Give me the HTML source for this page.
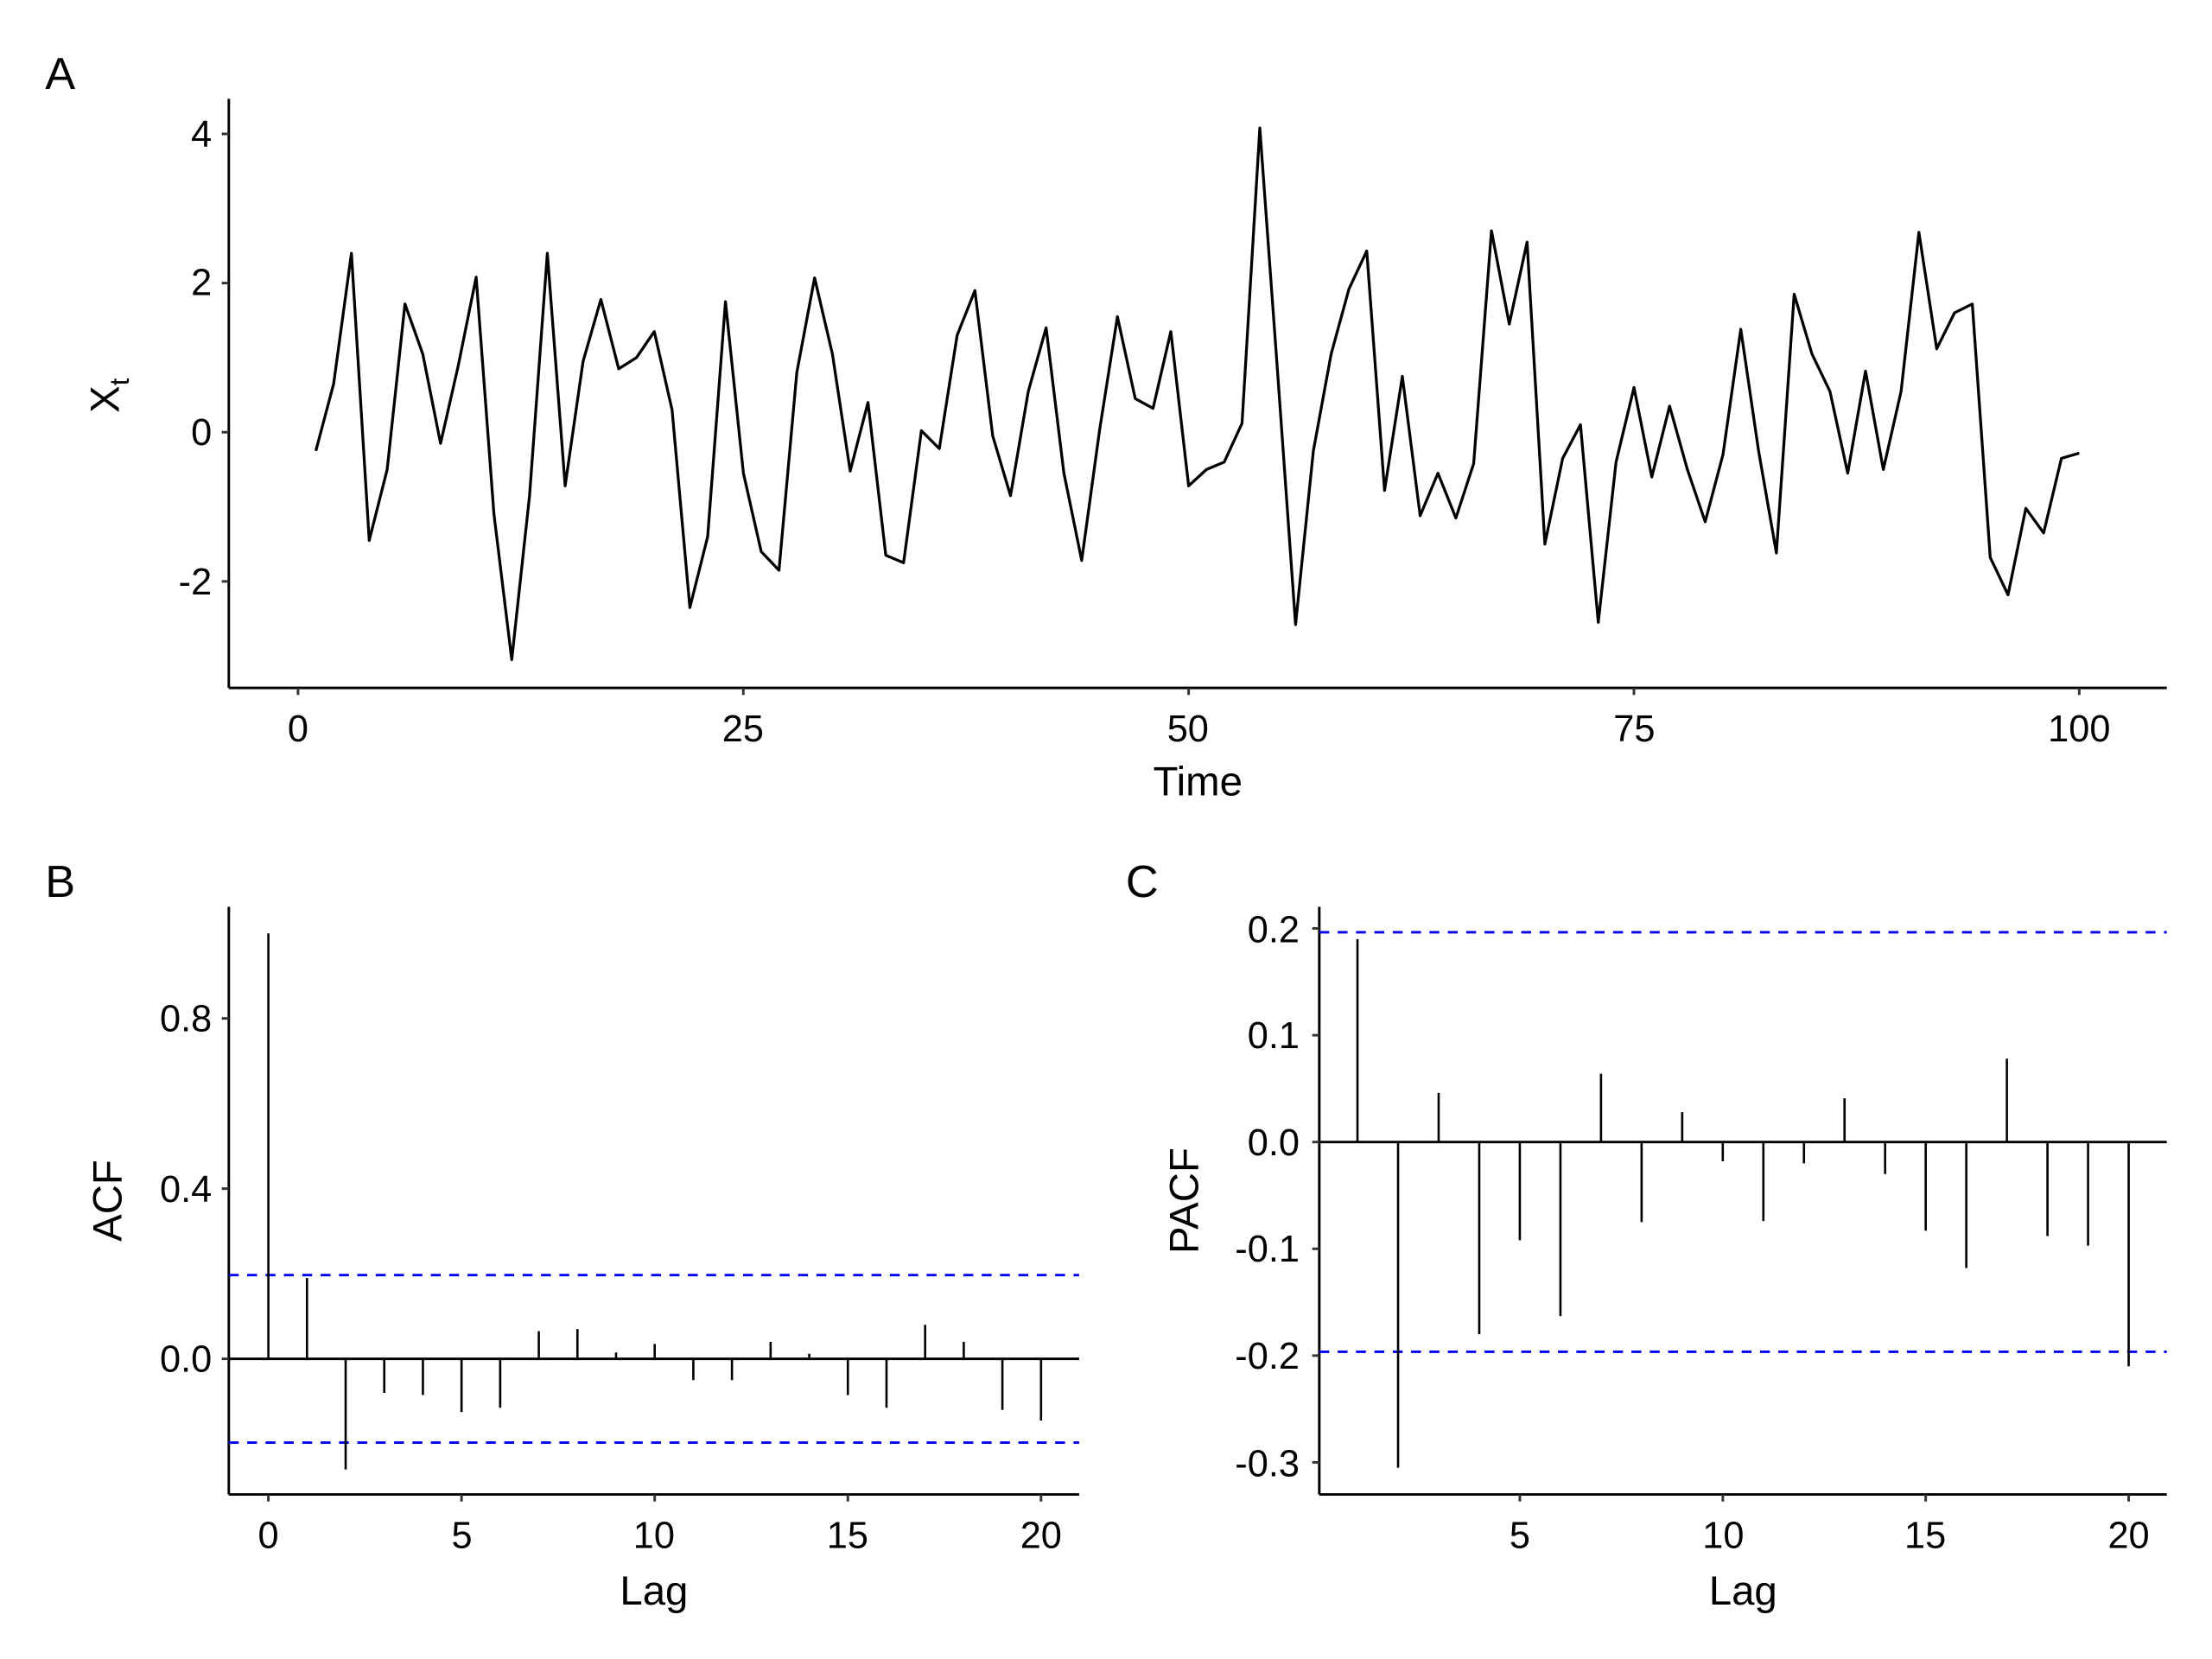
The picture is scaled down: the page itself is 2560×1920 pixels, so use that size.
<!DOCTYPE html>
<html><head><meta charset="utf-8"><style>
html,body{margin:0;padding:0;background:#fff}
svg{display:block}
text{font-family:"Liberation Sans",Arial,sans-serif;fill:#000}
.tk{font-size:26.5px}
.tt{font-size:29px}
.pl{font-size:32px}
</style></head><body>
<svg id="s" width="2560" height="1920" viewBox="0 0 1566 1174.5" xmlns="http://www.w3.org/2000/svg">
<rect width="1566" height="1174.5" fill="#fff"/>
<!-- Panel A -->
<text class="pl" x="32" y="63">A</text>
<line x1="162" y1="70" x2="162" y2="487" stroke="#000" stroke-width="1.8"/>
<line x1="162" y1="487" x2="1534" y2="487" stroke="#000" stroke-width="1.8"/>
<g stroke="#333" stroke-width="1.8">
<line x1="157" y1="94.8" x2="162" y2="94.8"/><line x1="157" y1="200.4" x2="162" y2="200.4"/><line x1="157" y1="306" x2="162" y2="306"/><line x1="157" y1="411.6" x2="162" y2="411.6"/>
<line x1="211" y1="487" x2="211" y2="492"/><line x1="526.25" y1="487" x2="526.25" y2="492"/><line x1="841.5" y1="487" x2="841.5" y2="492"/><line x1="1156.75" y1="487" x2="1156.75" y2="492"/><line x1="1472" y1="487" x2="1472" y2="492"/>
</g>
<g class="tk" text-anchor="end">
<text x="150" y="104">4</text><text x="150" y="209">2</text><text x="150" y="315">0</text><text x="150" y="421">-2</text>
</g>
<g class="tk" text-anchor="middle">
<text x="211" y="525">0</text><text x="526" y="525">25</text><text x="841" y="525">50</text><text x="1157" y="525">75</text><text x="1472" y="525">100</text>
</g>
<text class="tt" x="848" y="563" text-anchor="middle">Time</text>
<text class="tt" transform="translate(84,280) rotate(-90)" text-anchor="middle">X<tspan font-size="19" dy="7">t</tspan></text>
<polyline id="ts" fill="none" stroke="#000" stroke-width="2" stroke-linejoin="round"/>

<!-- Panel B -->
<text class="pl" x="32" y="635">B</text>
<line x1="162" y1="642" x2="162" y2="1058" stroke="#000" stroke-width="1.8"/>
<line x1="162" y1="1058" x2="764" y2="1058" stroke="#000" stroke-width="1.8"/>
<line x1="162" y1="962" x2="764" y2="962" stroke="#000" stroke-width="1.8"/>
<line x1="162" y1="902.7" x2="764" y2="902.7" stroke="#0000ee" stroke-width="1.8" stroke-dasharray="7,6"/>
<line x1="162" y1="1021.3" x2="764" y2="1021.3" stroke="#0000ee" stroke-width="1.8" stroke-dasharray="7,6"/>
<g stroke="#333" stroke-width="1.8">
<line x1="157" y1="721" x2="162" y2="721"/><line x1="157" y1="841.5" x2="162" y2="841.5"/><line x1="157" y1="962" x2="162" y2="962"/>
<line x1="190" y1="1058" x2="190" y2="1063"/><line x1="326.75" y1="1058" x2="326.75" y2="1063"/><line x1="463.5" y1="1058" x2="463.5" y2="1063"/><line x1="600.25" y1="1058" x2="600.25" y2="1063"/><line x1="737" y1="1058" x2="737" y2="1063"/>
</g>
<g class="tk" text-anchor="end">
<text x="150" y="730">0.8</text><text x="150" y="851">0.4</text><text x="150" y="971">0.0</text>
</g>
<g class="tk" text-anchor="middle">
<text x="190" y="1096">0</text><text x="327" y="1096">5</text><text x="463" y="1096">10</text><text x="600" y="1096">15</text><text x="737" y="1096">20</text>
</g>
<text class="tt" x="463" y="1136" text-anchor="middle">Lag</text>
<text class="tt" transform="translate(86,850) rotate(-90)" text-anchor="middle">ACF</text>
<g id="acf" stroke="#000" stroke-width="1.6"></g>

<!-- Panel C -->
<text class="pl" x="797" y="635">C</text>
<line x1="934" y1="642" x2="934" y2="1058" stroke="#000" stroke-width="1.8"/>
<line x1="934" y1="1058" x2="1534" y2="1058" stroke="#000" stroke-width="1.8"/>
<line x1="934" y1="808.5" x2="1534" y2="808.5" stroke="#000" stroke-width="1.8"/>
<line x1="934" y1="660" x2="1534" y2="660" stroke="#0000ee" stroke-width="1.8" stroke-dasharray="7,6"/>
<line x1="934" y1="957" x2="1534" y2="957" stroke="#0000ee" stroke-width="1.8" stroke-dasharray="7,6"/>
<g stroke="#333" stroke-width="1.8">
<line x1="929" y1="657.3" x2="934" y2="657.3"/><line x1="929" y1="732.9" x2="934" y2="732.9"/><line x1="929" y1="808.5" x2="934" y2="808.5"/><line x1="929" y1="884.1" x2="934" y2="884.1"/><line x1="929" y1="959.7" x2="934" y2="959.7"/><line x1="929" y1="1035.3" x2="934" y2="1035.3"/>
<line x1="1076" y1="1058" x2="1076" y2="1063"/><line x1="1219.7" y1="1058" x2="1219.7" y2="1063"/><line x1="1363.3" y1="1058" x2="1363.3" y2="1063"/><line x1="1507" y1="1058" x2="1507" y2="1063"/>
</g>
<g class="tk" text-anchor="end">
<text x="920" y="667">0.2</text><text x="920" y="742">0.1</text><text x="920" y="818">0.0</text><text x="920" y="893">-0.1</text><text x="920" y="969">-0.2</text><text x="920" y="1045">-0.3</text>
</g>
<g class="tk" text-anchor="middle">
<text x="1076" y="1096">5</text><text x="1220" y="1096">10</text><text x="1363" y="1096">15</text><text x="1507" y="1096">20</text>
</g>
<text class="tt" x="1234" y="1136" text-anchor="middle">Lag</text>
<text class="tt" transform="translate(848,850) rotate(-90)" text-anchor="middle">PACF</text>
<g id="pacf" stroke="#000" stroke-width="1.6"></g>
</svg>
<script>
var X=[-0.25,0.65,2.4,-1.45,-0.5,1.72,1.05,-0.15,0.9,2.08,-1.1,-3.05,-0.85,2.4,-0.72,0.95,1.78,0.85,1.0,1.35,0.3,-2.35,-1.4,1.75,-0.55,-1.6,-1.85,0.8,2.07,1.05,-0.52,0.4,-1.65,-1.75,0.02,-0.22,1.3,1.9,-0.05,-0.85,0.55,1.4,-0.55,-1.72,0.02,1.55,0.45,0.32,1.35,-0.72,-0.5,-0.4,0.12,4.08,0.8,-2.58,-0.25,1.05,1.92,2.43,-0.78,0.75,-1.12,-0.55,-1.15,-0.42,2.7,1.45,2.55,-1.5,-0.35,0.1,-2.55,-0.4,0.6,-0.6,0.35,-0.5,-1.2,-0.3,1.38,-0.25,-1.62,1.85,1.05,0.55,-0.55,0.82,-0.5,0.55,2.68,1.12,1.6,1.72,-1.68,-2.18,-1.02,-1.35,-0.35,-0.28];
var p=[];for(var i=0;i<X.length;i++){p.push((211+(i+1)*12.61).toFixed(1)+","+(306-X[i]*52.8).toFixed(1));}
document.getElementById("ts").setAttribute("points",p.join(" "));
var NS="http://www.w3.org/2000/svg";
var A=[1,0.19,-0.26,-0.08,-0.085,-0.125,-0.115,0.065,0.07,0.015,0.035,-0.05,-0.05,0.04,0.012,-0.085,-0.115,0.08,0.04,-0.12,-0.145];
var g=document.getElementById("acf");
A.forEach(function(v,k){var l=document.createElementNS(NS,"line");var x=190+k*27.35;l.setAttribute("x1",x);l.setAttribute("x2",x);l.setAttribute("y1",962);l.setAttribute("y2",962-v*301.2);g.appendChild(l);});
var P=[0.19,-0.305,0.046,-0.18,-0.092,-0.163,0.064,-0.075,0.028,-0.018,-0.074,-0.02,0.041,-0.03,-0.083,-0.118,0.078,-0.088,-0.097,-0.21];
var h=document.getElementById("pacf");
P.forEach(function(v,k){var l=document.createElementNS(NS,"line");var x=932.3+(k+1)*28.735;l.setAttribute("x1",x);l.setAttribute("x2",x);l.setAttribute("y1",808.5);l.setAttribute("y2",808.5-v*756);h.appendChild(l);});
</script>
</body></html>
